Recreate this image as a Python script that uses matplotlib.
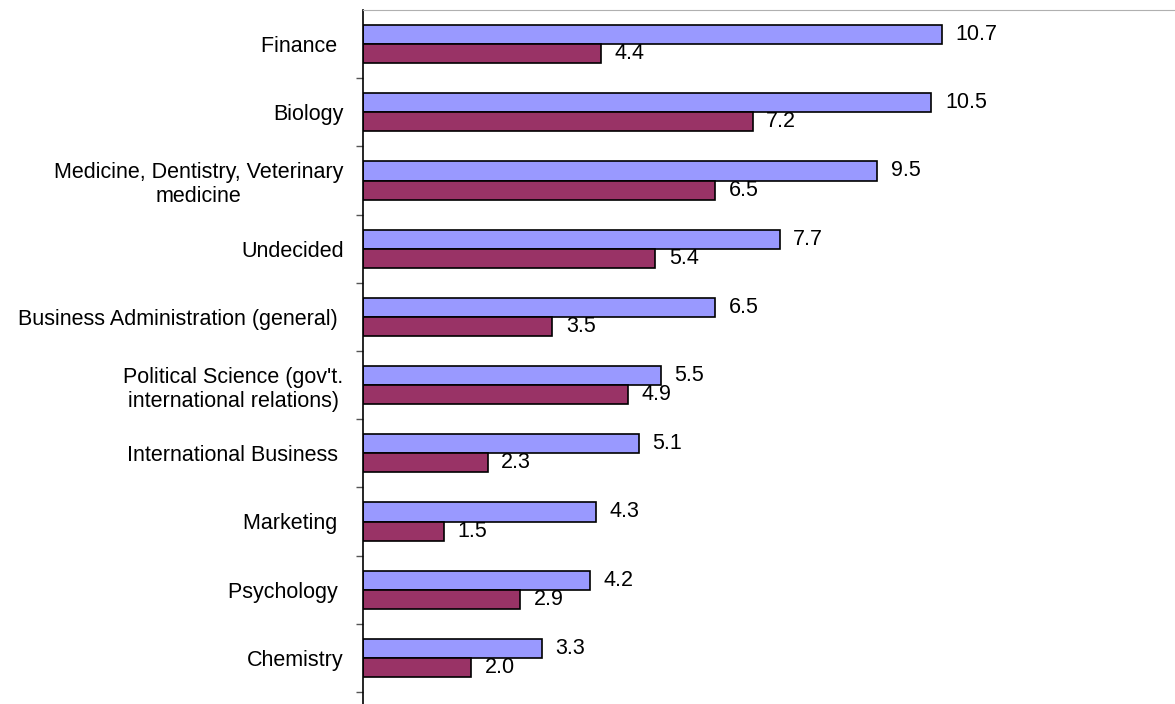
import matplotlib.pyplot as plt
import numpy as np

plt.rcParams['font.family'] = ['Liberation Sans', 'DejaVu Sans']

categories = [
    'Finance ',
    'Biology',
    'Medicine, Dentistry, Veterinary\nmedicine',
    'Undecided',
    'Business Administration (general) ',
    "Political Science (gov't.\ninternational relations)",
    'International Business ',
    'Marketing ',
    'Psychology ',
    'Chemistry',
]
series_a = [10.7, 10.5, 9.5, 7.7, 6.5, 5.5, 5.1, 4.3, 4.2, 3.3]
series_b = [4.4, 7.2, 6.5, 5.4, 3.5, 4.9, 2.3, 1.5, 2.9, 2.0]

COLOR_A = '#9999ff'
COLOR_B = '#993366'
FONT_SIZE = 15.5

fig = plt.figure(figsize=(11.75, 7.04), dpi=100)
ax = fig.add_axes([363 / 1175, 0.0, 1 - 363 / 1175, 1 - 10 / 704])

y = np.arange(len(categories))
bar_h = 0.28

bars_a = ax.barh(y - bar_h / 2, series_a, height=bar_h, color=COLOR_A,
                 edgecolor='black', linewidth=1.2)
bars_b = ax.barh(y + bar_h / 2, series_b, height=bar_h, color=COLOR_B,
                 edgecolor='black', linewidth=1.2)

for bars, values in [(bars_a, series_a), (bars_b, series_b)]:
    for bar, value in zip(bars, values):
        ax.text(value + 0.25, bar.get_y() + bar.get_height() / 2, f'{value:.1f}',
                ha='left', va='center', fontsize=FONT_SIZE)

ax.set_xlim(0, 15)
ax.set_ylim(9.5 + 12 / 68.2, -0.5)

ax.set_xticks([])
ax.set_yticks(y)
ax.set_yticklabels(categories, fontsize=FONT_SIZE)
plt.setp(ax.get_yticklabels(), multialignment='center', linespacing=1.2)
ax.set_yticks(np.arange(1, len(categories) + 1) - 0.5, minor=True)
ax.tick_params(axis='y', which='major', length=0, pad=14)
ax.tick_params(axis='y', which='minor', length=5, width=1, direction='out',
               color='#555555')

ax.spines['right'].set_visible(False)
ax.spines['bottom'].set_visible(False)
ax.spines['top'].set_color('#b0b0b0')
ax.spines['left'].set_linewidth(1.2)

fig.savefig('out.png', dpi=100)
